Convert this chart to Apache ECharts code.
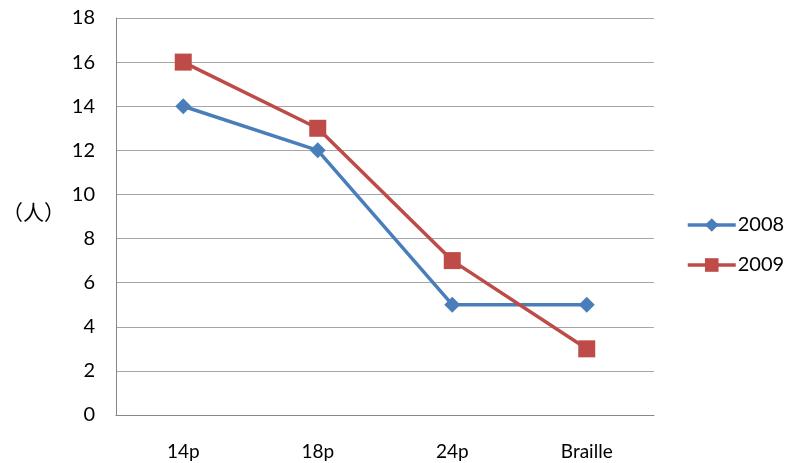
<!DOCTYPE html>
<html>
<head>
<meta charset="utf-8">
<script src="https://cdn.jsdelivr.net/npm/echarts@6/dist/echarts.min.js"></script>
<style>
html,body{margin:0;padding:0;background:#fff;}
#chart{width:787px;height:463px;}
</style>
</head>
<body>
<div id="chart"></div>
<script>
// Font sizes by category, counts per year
const categories = ['14p', '18p', '24p', 'Braille'];
const series2008 = [14, 12, 5, 5];
const series2009 = [16, 13, 7, 3];
const yTicks = { min: 0, max: 18, interval: 2 };

const chart = echarts.init(document.getElementById('chart'));
const font = 'Lato, "Open Sans", sans-serif';
chart.setOption({
  animation: false,
  backgroundColor: '#fff',
  grid: { left: 116, right: 133, top: 18, bottom: 48 },
  legend: {
    orient: 'vertical',
    left: 681,
    top: 210,
    itemWidth: 48,
    itemHeight: 17,
    itemGap: 20,
    lineStyle: { width: 3.5 },
    textStyle: { fontFamily: font, fontSize: 20, color: '#000', padding: [0, 0, 0, -3] },
    data: ['2008', '2009']
  },
  xAxis: {
    type: 'category',
    data: categories,
    boundaryGap: true,
    axisLine: { lineStyle: { color: '#868686', width: 1 } },
    axisTick: { show: false },
    axisLabel: { fontFamily: font, fontSize: 19, color: '#000', margin: 27 }
  },
  yAxis: {
    type: 'value',
    min: yTicks.min, max: yTicks.max, interval: yTicks.interval,
    axisLine: { show: true, lineStyle: { color: '#868686', width: 1 } },
    axisTick: { show: false },
    splitLine: { lineStyle: { color: '#A6A6A6', width: 1 } },
    axisLabel: { fontFamily: font, fontSize: 20, color: '#000', margin: 21 }
  },
  graphic: [{
    type: 'text',
    left: 2,
    top: 202,
    style: { text: '（人）', font: '21px "Noto Sans CJK SC"', fill: '#000' }
  }],
  series: [
    {
      name: '2008', type: 'line', data: series2008,
      symbol: 'diamond', symbolSize: 16,
      lineStyle: { color: '#4A7EBB', width: 3.5 },
      itemStyle: { color: '#4A7EBB' }
    },
    {
      name: '2009', type: 'line', data: series2009,
      symbol: 'rect', symbolSize: 17,
      lineStyle: { color: '#BE4B48', width: 3.5 },
      itemStyle: { color: '#BE4B48' }
    }
  ]
});
</script>
</body>
</html>
